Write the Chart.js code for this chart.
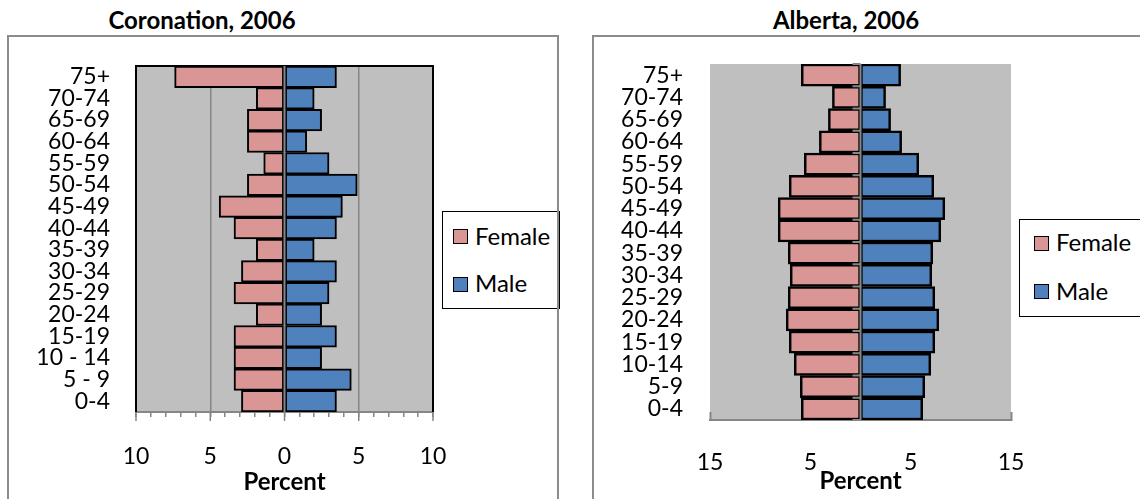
<!DOCTYPE html>
<html>
<head>
<meta charset="utf-8">
<script src="https://cdn.jsdelivr.net/npm/chart.js@4.4.1/dist/chart.umd.min.js"></script>
<style>
  body { margin: 0; width: 1140px; height: 499px; background: #fff; overflow: hidden; position: relative; font-family: Lato, sans-serif; }
  canvas { position: absolute; top: 0; }
  #coronation { left: 0; }
  #alberta { left: 570px; }
  .title { position: absolute; top: 5px; font-weight: bold; font-size: 24px; transform: translateX(-50%); white-space: nowrap; }
  .frame { position: absolute; border: 2px solid #8c8c8c; box-sizing: border-box; }
  .legend { position: absolute; border: 1.5px solid #000; background: #fff; box-sizing: border-box; }
  .sw { position: absolute; width: 15px; height: 15px; border: 1.5px solid #000; box-sizing: border-box; }
  .lt { position: absolute; font-size: 24px; line-height: 28px; white-space: nowrap; }
</style>
</head>
<body>
<div class="title" style="left:202px">Coronation, 2006</div>
<div class="title" style="left:846px">Alberta, 2006</div>

<canvas id="coronation" width="570" height="499"></canvas>
<canvas id="alberta" width="570" height="499"></canvas>

<div class="legend" style="left:442px; top:211px; width:118px; height:98px"></div>
<div class="sw" style="left:453px; top:229px; background:#D99694"></div>
<div class="lt" style="left:475px; top:222px">Female</div>
<div class="sw" style="left:453px; top:277px; background:#4F81BD"></div>
<div class="lt" style="left:475px; top:269px">Male</div>

<div class="legend" style="left:1019px; top:219px; width:140px; height:98px"></div>
<div class="sw" style="left:1034px; top:236px; background:#D99694"></div>
<div class="lt" style="left:1056px; top:228px">Female</div>
<div class="sw" style="left:1034px; top:284px; background:#4F81BD"></div>
<div class="lt" style="left:1056px; top:277px">Male</div>

<div class="frame" style="left:7px; top:35px; width:552px; height:500px"></div>
<div class="frame" style="left:592px; top:35px; width:600px; height:500px"></div>

<script>
// age groups, top to bottom as drawn
const coronationAges = ["75+", "70-74", "65-69", "60-64", "55-59", "50-54", "45-49", "40-44",
  "35-39", "30-34", "25-29", "20-24", "15-19", "10 - 14", "5 - 9", "0-4"];
const albertaAges = ["75+", "70-74", "65-69", "60-64", "55-59", "50-54", "45-49", "40-44",
  "35-39", "30-34", "25-29", "20-24", "15-19", "10-14", "5-9", "0-4"];

// percent of population
const coronationFemale = [7.4, 1.9, 2.5, 2.5, 1.4, 2.5, 4.4, 3.4, 1.9, 2.9, 3.4, 1.9, 3.4, 3.4, 3.4, 2.9];
const coronationMale = [3.5, 2.0, 2.5, 1.5, 3.0, 4.9, 3.9, 3.5, 2.0, 3.5, 3.0, 2.5, 3.5, 2.5, 4.5, 3.5];
const albertaFemale = [5.9, 2.8, 3.2, 4.1, 5.6, 7.1, 8.2, 8.2, 7.2, 7.0, 7.2, 7.4, 7.1, 6.6, 6.0, 5.9];
const albertaMale = [4.0, 2.5, 3.0, 4.1, 5.8, 7.3, 8.4, 8.0, 7.2, 7.1, 7.4, 7.8, 7.4, 7.0, 6.4, 6.2];

const albertaTicks = [-15, -5, 5, 15];

const FEMALE = "#D99694";
const MALE = "#4F81BD";
const PLOT_BG = "#BFBFBF";
const AXIS_GRAY = "#868686";
const FONT = "Lato";

// plot background, black frame, and the zero (category) axis drawn over the bars
const plotBox = {
  id: "plotBox",
  beforeDraw(chart, args, opts) {
    const { ctx, chartArea: a } = chart;
    ctx.save();
    ctx.fillStyle = opts.fill;
    ctx.fillRect(a.left, a.top, a.right - a.left, a.bottom - a.top);
    ctx.restore();
  },
  beforeDatasetsDraw(chart, args, opts) {
    if (!opts.frame) return;
    const { ctx, chartArea: a } = chart;
    ctx.save();
    ctx.strokeStyle = opts.frame;
    ctx.lineWidth = 2;
    ctx.beginPath();
    ctx.moveTo(a.left, a.bottom);
    ctx.lineTo(a.left, a.top);
    ctx.lineTo(a.right, a.top);
    ctx.lineTo(a.right, a.bottom);
    ctx.stroke();
    ctx.restore();
  },
  afterDatasetsDraw(chart, args, opts) {
    const { ctx, chartArea: a, scales } = chart;
    const x0 = scales.x.getPixelForValue(0);
    ctx.save();
    ctx.strokeStyle = AXIS_GRAY;
    ctx.lineWidth = 2;
    ctx.beginPath();
    ctx.moveTo(x0, a.top);
    ctx.lineTo(x0, a.bottom);
    if (opts.stub) {
      const y = scales.y;
      const half = (y.getPixelForValue(1) - y.getPixelForValue(0)) / 2;
      for (let i = 0; i <= y.ticks.length; i++) {
        const py = y.getPixelForValue(i) - half;
        ctx.moveTo(x0 - opts.stub, py);
        ctx.lineTo(x0, py);
      }
    }
    ctx.stroke();
    // longer marks at the labelled ticks
    if (opts.major) {
      ctx.lineWidth = 1.5;
      ctx.beginPath();
      opts.major.forEach((v) => {
        const px = scales.x.getPixelForValue(v);
        ctx.moveTo(px, a.bottom);
        ctx.lineTo(px, a.bottom + 9);
      });
      ctx.stroke();
    }
    ctx.restore();
  },
};

function datasets(female, male, bw) {
  return [
    {
      label: "Female",
      data: female.map((v) => -v),
      backgroundColor: FEMALE,
      borderColor: "#000",
      borderWidth: bw,
      borderSkipped: false,
    },
    {
      label: "Male",
      data: male,
      backgroundColor: MALE,
      borderColor: "#000",
      borderWidth: bw,
      borderSkipped: false,
    },
  ];
}

const yAxis = (width, pad) => ({
  stacked: true,
  grid: { display: false, drawTicks: false },
  border: { display: false },
  ticks: { autoSkip: false, padding: pad, color: "#000", font: { family: FONT, size: 23 } },
  afterFit: (s) => { s.width = width; },
});

new Chart(document.getElementById("coronation"), {
  type: "bar",
  data: { labels: coronationAges, datasets: datasets(coronationFemale, coronationMale, 2) },
  options: {
    indexAxis: "y",
    responsive: false,
    animation: false,
    barPercentage: 1,
    categoryPercentage: 1,
    layout: { padding: { top: 66, right: 137, left: 0, bottom: 0 } },
    plugins: {
      legend: { display: false },
      tooltip: { enabled: false },
      plotBox: { fill: PLOT_BG, frame: "#000", major: [-10, -5, 0, 5, 10] },
    },
    scales: {
      x: {
        stacked: true,
        min: -10,
        max: 10,
        ticks: {
          stepSize: 1,
          autoSkip: false,
          maxRotation: 0,
          padding: 26,
          color: "#000",
          font: { family: FONT, size: 23 },
          callback: (v) => (v % 5 === 0 ? Math.abs(v) : ""),
        },
        grid: {
          color: (c) => (c.tick && Math.abs(c.tick.value) === 5 ? AXIS_GRAY : "rgba(0,0,0,0)"),
          lineWidth: 1.5,
          tickColor: AXIS_GRAY,
          tickLength: 5,
          tickWidth: 1.5,
        },
        border: { color: AXIS_GRAY, width: 2 },
        title: {
          display: true,
          text: "Percent",
          color: "#000",
          font: { family: FONT, size: 24, weight: "bold" },
          padding: { top: 0, bottom: 2 },
        },
        afterFit: (s) => { s.height = 87; },
      },
      y: yAxis(136, 26),
    },
  },
  plugins: [plotBox],
});

new Chart(document.getElementById("alberta"), {
  type: "bar",
  data: { labels: albertaAges, datasets: datasets(albertaFemale, albertaMale, 2.5) },
  options: {
    indexAxis: "y",
    responsive: false,
    animation: false,
    barPercentage: 1,
    categoryPercentage: 1,
    layout: { padding: { top: 64, right: 129, left: 0, bottom: 0 } },
    plugins: {
      legend: { display: false },
      tooltip: { enabled: false },
      plotBox: { fill: PLOT_BG, frame: null, stub: 8 },
    },
    scales: {
      x: {
        stacked: true,
        min: -15,
        max: 15,
        z: 1,
        afterBuildTicks: (axis) => { axis.ticks = albertaTicks.map((v) => ({ value: v })); },
        ticks: {
          autoSkip: false,
          maxRotation: 0,
          padding: 37,
          color: "#000",
          font: { family: FONT, size: 23 },
          callback: (v) => Math.abs(v),
        },
        grid: {
          drawOnChartArea: false,
          tickColor: AXIS_GRAY,
          tickLength: -8,
          tickWidth: 2,
        },
        border: { color: AXIS_GRAY, width: 2 },
        title: {
          display: true,
          text: "Percent",
          color: "#000",
          font: { family: FONT, size: 24, weight: "bold" },
          padding: { top: 0, bottom: 3 },
        },
        afterFit: (s) => { s.height = 79; },
      },
      y: yAxis(140, 27),
    },
  },
  plugins: [plotBox],
});
</script>
</body>
</html>
